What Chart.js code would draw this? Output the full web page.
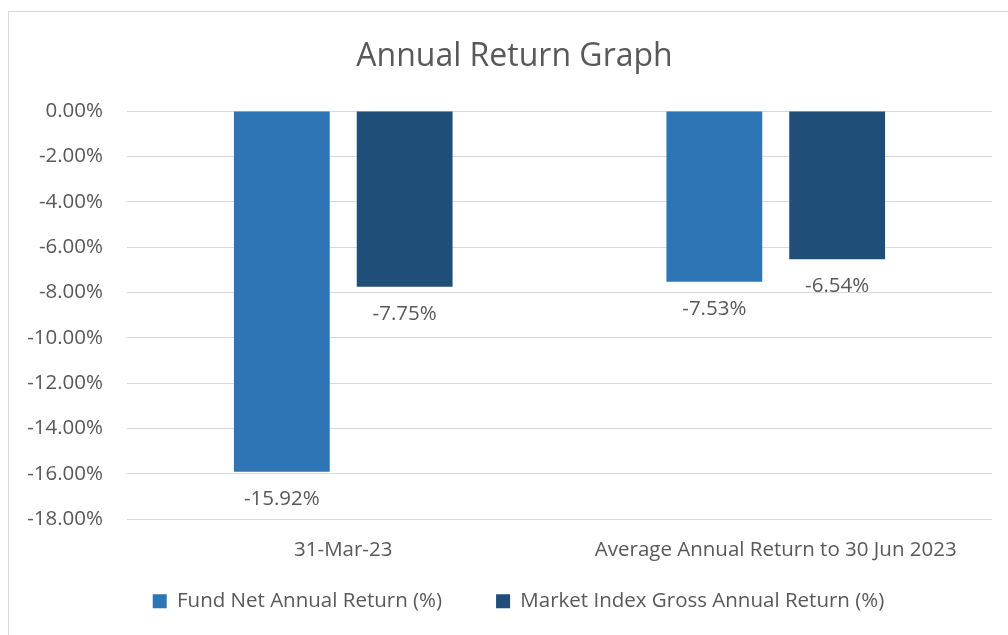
<!DOCTYPE html>
<html lang="en">
<head>
  <meta charset="UTF-8">
  <title>Annual Return Graph</title>
  <script src="https://cdn.jsdelivr.net/npm/chart.js"></script>
  <style>
    html, body {
      margin: 0;
      padding: 0;
      background: #fff;
      overflow: hidden;
    }
    .frame {
      position: absolute;
      left: 8px;
      top: 11px;
      width: 1020px;
      height: 650px;
      border: 1px solid #d9d9d9;
      box-sizing: border-box;
    }
    .wrap {
      position: absolute;
      left: 0;
      top: 0;
      width: 1008px;
      height: 635px;
    }
  </style>
</head>
<body>
  <div class="frame"></div>
  <div class="wrap"><canvas id="chart"></canvas></div>
  <script>
    const categories = ['31-Mar-23', 'Average Annual Return to 30 Jun 2023'];
    const fundReturns = [-15.92, -7.53];
    const indexReturns = [-7.75, -6.54];
    const seriesNames = ['Fund Net Annual Return (%)', 'Market Index Gross Annual Return (%)'];
    const colors = ['#2e75b6', '#1f4e79'];

    const textColor = '#595959';
    const fontFamily = '"Open Sans", sans-serif';

    // labels under each bar end
    const valueLabels = {
      id: 'valueLabels',
      afterDatasetsDraw(chart) {
        const ctx = chart.ctx;
        ctx.save();
        ctx.font = '20.5px ' + fontFamily;
        ctx.fillStyle = textColor;
        ctx.textAlign = 'center';
        ctx.textBaseline = 'middle';
        chart.data.datasets.forEach((ds, i) => {
          chart.getDatasetMeta(i).data.forEach((bar, j) => {
            ctx.fillText(ds.data[j].toFixed(2) + '%', bar.x, bar.y + 27);
          });
        });
        ctx.restore();
      }
    };

    // title and legend sit a little off from where chart.js centres them
    const blockPlace = {
      id: 'blockPlace',
      afterLayout(chart) {
        const lg = chart.legend;
        lg.top -= 30;
        lg.left += 12.5;
        lg.right += 12.5;
        const tt = chart.titleBlock;
        tt.left += 8.5;
        tt.right += 8.5;
      }
    };

    new Chart(document.getElementById('chart'), {
      type: 'bar',
      data: {
        labels: categories,
        datasets: [
          { label: seriesNames[0], data: fundReturns, backgroundColor: colors[0] },
          { label: seriesNames[1], data: indexReturns, backgroundColor: colors[1] }
        ]
      },
      options: {
        responsive: true,
        maintainAspectRatio: false,
        animation: false,
        events: [],
        categoryPercentage: 0.568,
        barPercentage: 0.78,
        layout: { padding: { left: 20, right: 16, top: 0, bottom: 0 } },
        plugins: {
          title: {
            display: true,
            text: 'Annual Return Graph',
            color: textColor,
            font: { family: fontFamily, size: 32, weight: 'normal' },
            padding: { top: 38, bottom: 34.6 }
          },
          legend: {
            position: 'bottom',
            maxHeight: 68,
            labels: {
              color: textColor,
              font: { family: fontFamily, size: 20.5 },
              boxWidth: 14,
              boxHeight: 14,
              padding: 54
            }
          },
          tooltip: { enabled: false }
        },
        scales: {
          x: {
            grid: { display: false, drawTicks: false },
            border: { display: false },
            ticks: {
              color: textColor,
              font: { family: fontFamily, size: 20.5 },
              padding: 18.7,
              maxRotation: 0
            },
            afterFit(scale) { scale.height = 48; }
          },
          y: {
            min: -18,
            max: 0,
            grid: { color: '#d9d9d9', lineWidth: 1, drawTicks: false },
            border: { display: false },
            ticks: {
              stepSize: 2,
              color: textColor,
              font: { family: fontFamily, size: 20.5 },
              padding: 24,
              callback: v => v.toFixed(2) + '%'
            },
            afterFit(scale) { scale.width = 107; }
          }
        }
      },
      plugins: [valueLabels, blockPlace]
    });
  </script>
</body>
</html>
